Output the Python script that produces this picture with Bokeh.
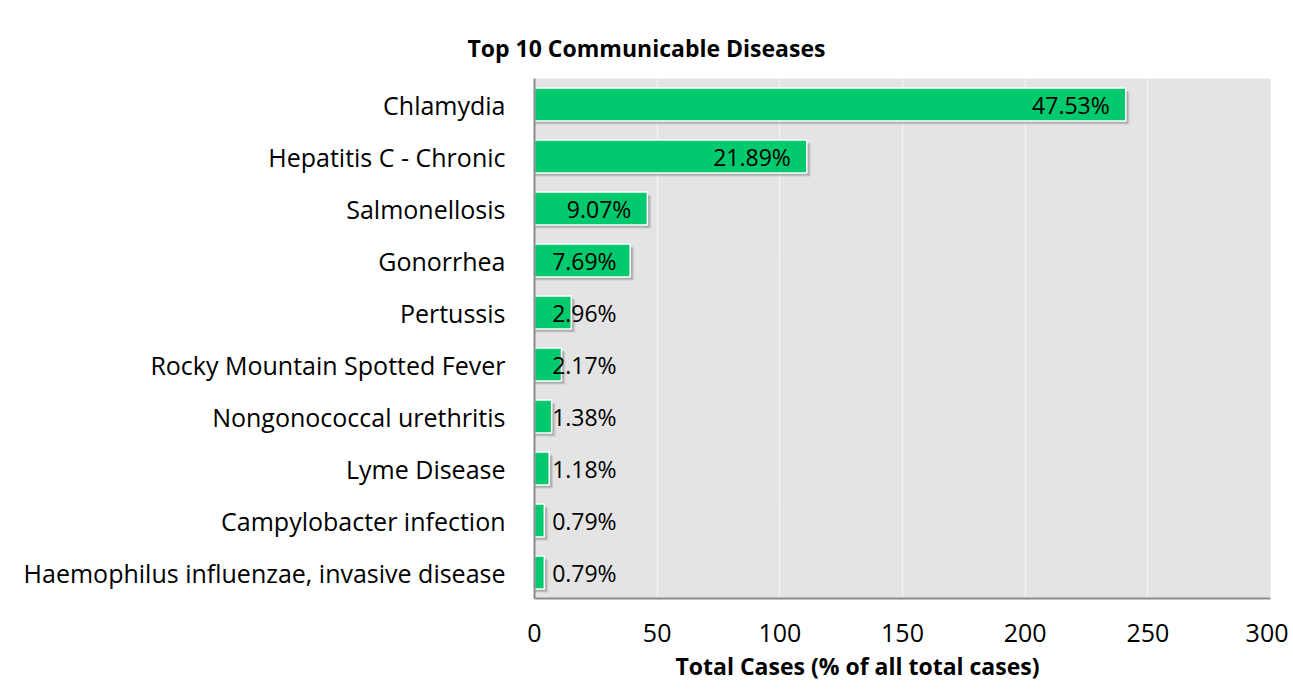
from bokeh.plotting import figure
from bokeh.models import ColumnDataSource, Range1d, FactorRange, Title, FixedTicker
from bokeh.transform import dodge
from bokeh.core.properties import value
from bokeh.embed import file_html
from bokeh.resources import INLINE

diseases = ["Chlamydia", "Hepatitis C - Chronic", "Salmonellosis", "Gonorrhea", "Pertussis",
            "Rocky Mountain Spotted Fever", "Nongonococcal urethritis", "Lyme Disease",
            "Campylobacter infection", "Haemophilus influenzae, invasive disease"]
cases = [241, 111, 46, 39, 15, 11, 7, 6, 4, 4]
pct_labels = ["47.53%", "21.89%", "9.07%", "7.69%", "2.96%", "2.17%", "1.38%", "1.18%", "0.79%", "0.79%"]
x_ticks = [0, 50, 100, 150, 200, 250, 300]

FONT = "Open Sans"
BAR = "#00c96e"

label_x = [max(c, 40) for c in cases]
src = ColumnDataSource(dict(d=diseases, v=cases, lab=pct_labels, lx=label_x))

p = figure(width=1288, height=684, output_backend="svg", toolbar_location=None,
           y_range=FactorRange(*list(reversed(diseases))), x_range=Range1d(0, 300),
           min_border_left=534, min_border_right=18, min_border_top=78, min_border_bottom=86)
p.background_fill_color = "#e4e4e4"
p.border_fill_color = "white"
p.outline_line_color = None

p.ygrid.grid_line_color = None
p.xgrid.grid_line_color = "#f2f2f2"
p.xgrid.grid_line_width = 1.5
p.xaxis.ticker = FixedTicker(ticks=x_ticks)

# shadows
p.hbar(y=dodge("d", -0.07, range=p.y_range), left=0, right=dodge("v", 1.6), height=0.63,
       source=src, fill_color="black", fill_alpha=0.10, line_color=None)
p.hbar(y=dodge("d", -0.05, range=p.y_range), left=0, right=dodge("v", 1.0), height=0.63,
       source=src, fill_color="black", fill_alpha=0.15, line_color=None)
p.hbar(y="d", left=0, right="v", height=0.63, source=src, fill_color=BAR,
       line_color="white", line_width=1.5)

p.text(x="lx", y="d", text="lab", source=src, x_offset=-16, text_align="right",
       text_baseline="middle", text_font=value(FONT), text_font_size="23px", text_color="black")

for ax in (p.xaxis, p.yaxis):
    ax.axis_line_color = "#8c8c8c"
    ax.axis_line_width = 2
    ax.major_tick_line_color = None
    ax.minor_tick_line_color = None
    ax.major_label_text_font = FONT
    ax.major_label_text_color = "black"
p.yaxis.major_label_text_font_size = "25px"
p.xaxis.major_label_text_font_size = "25px"
p.yaxis.major_label_standoff = 23
p.xaxis.major_label_standoff = 19

p.add_layout(Title(text="Total Cases (% of all total cases)", align="left", offset=141,
                   text_font=FONT, text_font_size="23px", text_font_style="bold",
                   text_color="black", standoff=6), "below")
p.add_layout(Title(text="Top 10 Communicable Diseases", align="left", offset=-67,
                   text_font=FONT, text_font_size="23px", text_font_style="bold",
                   text_color="black", standoff=30), "above")

open("out.html", "w").write(file_html(p, INLINE))
